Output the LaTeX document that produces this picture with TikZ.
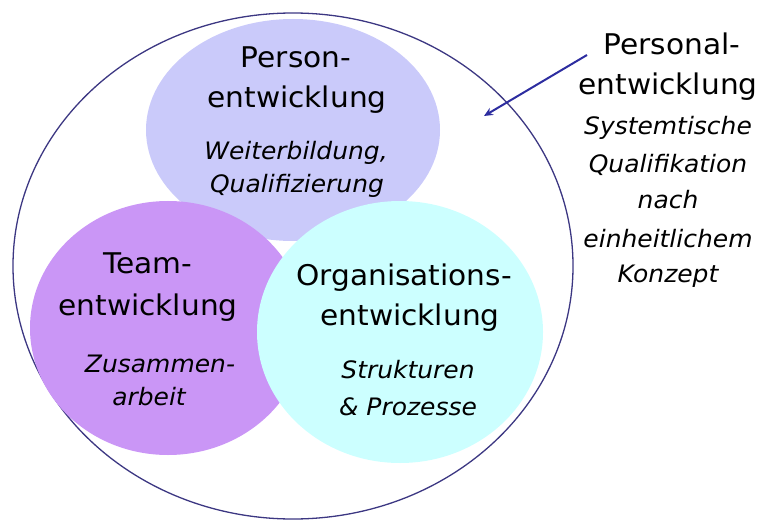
\documentclass[tikz,border=0pt]{standalone}
\usepackage{fontspec}
\setmainfont[FakeStretch=1.04]{DejaVu Sans}
\newfontfamily\subfont[FakeStretch=1.04]{DejaVu Sans}
\usetikzlibrary{arrows.meta,shapes.geometric}
\definecolor{lav}{RGB}{202,202,250}
\definecolor{purp}{RGB}{202,150,246}
\definecolor{cyanl}{RGB}{204,255,255}
\definecolor{rim}{RGB}{60,55,130}
\definecolor{arr}{RGB}{45,45,160}
\tikzset{
  blob/.style={ellipse, draw=none, inner sep=0pt},
  main/.style={font=\fontsize{28.5}{34}\selectfont, anchor=base, inner sep=0pt},
  sub/.style={font=\subfont\fontsize{24}{28}\selectfont\itshape, anchor=base, inner sep=0pt},
}
\begin{document}
\begin{tikzpicture}[x=1pt,y=-1pt]
\useasboundingbox (0,0) rectangle (759,521);
\node[blob, draw=rim, line width=1.3pt, minimum width=560, minimum height=506] (outer) at (293,266) {};
\node[blob, fill=lav, minimum width=294, minimum height=222] (pers) at (293,130) {};
\node[blob, fill=purp, minimum width=276, minimum height=254] (team) at (168,328) {};
\node[blob, fill=cyanl, minimum width=286, minimum height=262] (org) at (400,332) {};
% Person
\node[main] (p1) at (296,68) {Person-};
\node[main] (p2) at (297,108) {entwicklung};
\node[sub] (p3) at (296,160) {Weiterbildung,};
\node[sub] (p4) at (297,193) {Qualifizierung};
% Team
\node[main] (m1) at (148,273) {Team-};
\node[main] (m2) at (148,315) {entwicklung};
\node[sub] (m3) at (160,372) {Zusammen-};
\node[sub] (m4) at (149,405) {arbeit};
% Organisation
\node[main] (o1) at (404,285) {Organisations-};
\node[main] (o2) at (410,325) {entwicklung};
\node[sub] (o3) at (408,378) {Strukturen};
\node[sub] (o4) at (408,415) {\& Prozesse};
% Right
\node[main] (r1) at (672,55) {Personal-};
\node[main] (r2) at (668,95) {entwicklung};
\node[sub] (r3) at (668,135) {Systemtische};
\node[sub] (r4) at (668,173) {Qualifikation};
\node[sub] (r5) at (668,208) {nach};
\node[sub] (r6) at (668,247) {einheitlichem};
\node[sub] (r7) at (668,282) {Konzept};
\coordinate (tip) at (484,116);
\coordinate (tail) at (587,55);
\draw[arr, line width=2pt, -{Stealth[length=9pt,width=8pt]}] (tail) -- (tip);
\end{tikzpicture}
\end{document}
